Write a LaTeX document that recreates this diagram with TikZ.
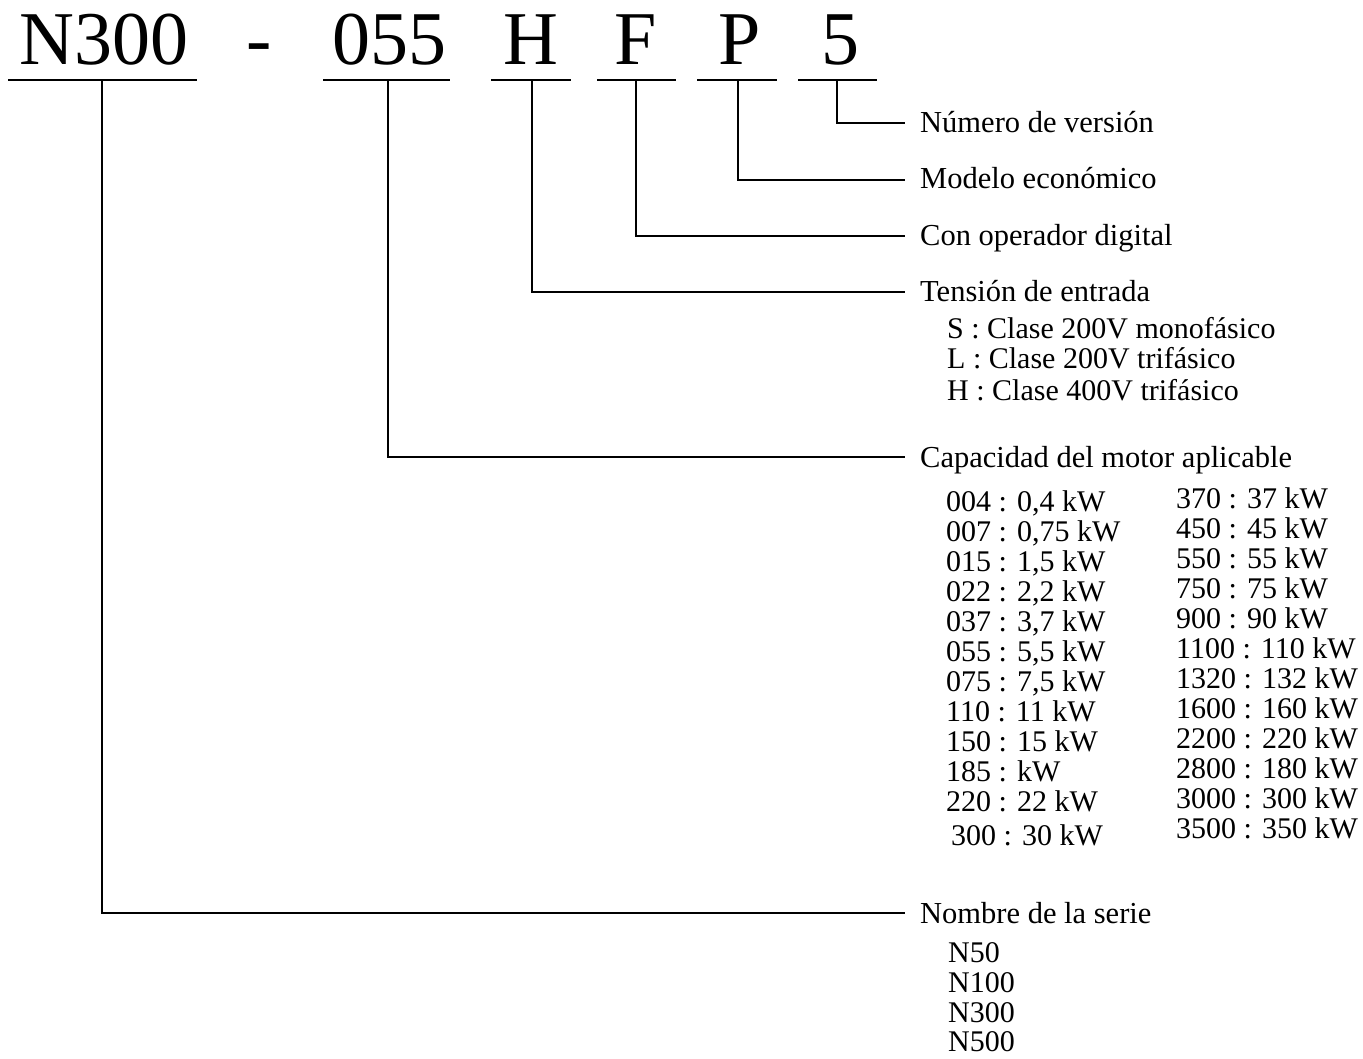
\documentclass[tikz,border=0pt]{standalone}
\usepackage{fontspec}
\setmainfont{Liberation Serif}
\begin{document}
\begin{tikzpicture}[x=1pt,y=-1pt,
  titletext/.style={font=\fontsize{76}{80}\selectfont, anchor=base, inner sep=0pt},
  lbl/.style={font=\fontsize{30.5}{34}\selectfont, anchor=base west, inner sep=0pt},
  sublbl/.style={font=\fontsize{30}{33}\selectfont, anchor=base west, inner sep=0pt},
  uline/.style={line width=2.2pt},
  conn/.style={line width=1.6pt}]
\useasboundingbox (0,0) rectangle (1363,1059);

% title segments
\node[titletext] (tN) at (104,65) {N300};
\node[titletext] (tdash) at (259,65) {-};
\node[titletext] (t055) at (389,65) {055};
\node[titletext] (tH) at (531,65) {H};
\node[titletext] (tF) at (636,65) {F};
\node[titletext] (tP) at (740,65) {P};
\node[titletext] (t5) at (840,65) {5};

% underlines
\draw[uline] (8,80) -- (197,80);
\draw[uline] (323,80) -- (450,80);
\draw[uline] (491,80) -- (571,80);
\draw[uline] (597,80) -- (676,80);
\draw[uline] (697,80) -- (777,80);
\draw[uline] (798,80) -- (877,80);

% connector start points (on underlines)
\coordinate (sN) at (102,80);
\coordinate (s055) at (388,80);
\coordinate (sH) at (532,80);
\coordinate (sF) at (636,80);
\coordinate (sP) at (738,80);
\coordinate (s5) at (837,80);

% connector end points
\coordinate (e5) at (905,123);
\coordinate (eP) at (905,180);
\coordinate (eF) at (905,236);
\coordinate (eH) at (905,292);
\coordinate (e055) at (905,457);
\coordinate (eN) at (905,913);

\draw[conn] (s5) |- (e5);
\draw[conn] (sP) |- (eP);
\draw[conn] (sF) |- (eF);
\draw[conn] (sH) |- (eH);
\draw[conn] (s055) |- (e055);
\draw[conn] (sN) |- (eN);

% labels
\node[lbl] (l5) at (920,133) {Número de versión};
\node[lbl] (lP) at (920,189) {Modelo económico};
\node[lbl] (lF) at (920,246) {Con operador digital};
\node[lbl] (lH) at (920,302) {Tensión de entrada};
\node[sublbl] (hS) at (947,338) {S : Clase 200V monofásico};
\node[sublbl] (hL) at (947,369) {L : Clase 200V trifásico};
\node[sublbl] (hH) at (947,400) {H : Clase 400V trifásico};
\node[lbl] (l055) at (920,467) {Capacidad del motor aplicable};

\foreach \t [count=\i] in {004 : 0{,}4 kW, 007 : 0{,}75 kW, 015 : 1{,}5 kW, 022 : 2{,}2 kW,
  037 : 3{,}7 kW, 055 : 5{,}5 kW, 075 : 7{,}5 kW, 110 : 11 kW, 150 : 15 kW, 185 : kW, 220 : 22 kW}
  \node[sublbl] (ca\i) at (946,{481+30*\i}) {\t};
\node[sublbl] (ca12) at (951,845) {300 : 30 kW};

\foreach \t [count=\i] in {370 : 37 kW, 450 : 45 kW, 550 : 55 kW, 750 : 75 kW, 900 : 90 kW,
  1100 : 110 kW, 1320 : 132 kW, 1600 : 160 kW, 2200 : 220 kW, 2800 : 180 kW, 3000 : 300 kW, 3500 : 350 kW}
  \node[sublbl] (cb\i) at (1176,{478+30*\i}) {\t};

\node[lbl] (lN) at (920,923) {Nombre de la serie};
\node[sublbl] (n1) at (948,962) {N50};
\node[sublbl] (n2) at (948,992) {N100};
\node[sublbl] (n3) at (948,1022) {N300};
\node[sublbl] (n4) at (948,1051) {N500};
\end{tikzpicture}
\end{document}
